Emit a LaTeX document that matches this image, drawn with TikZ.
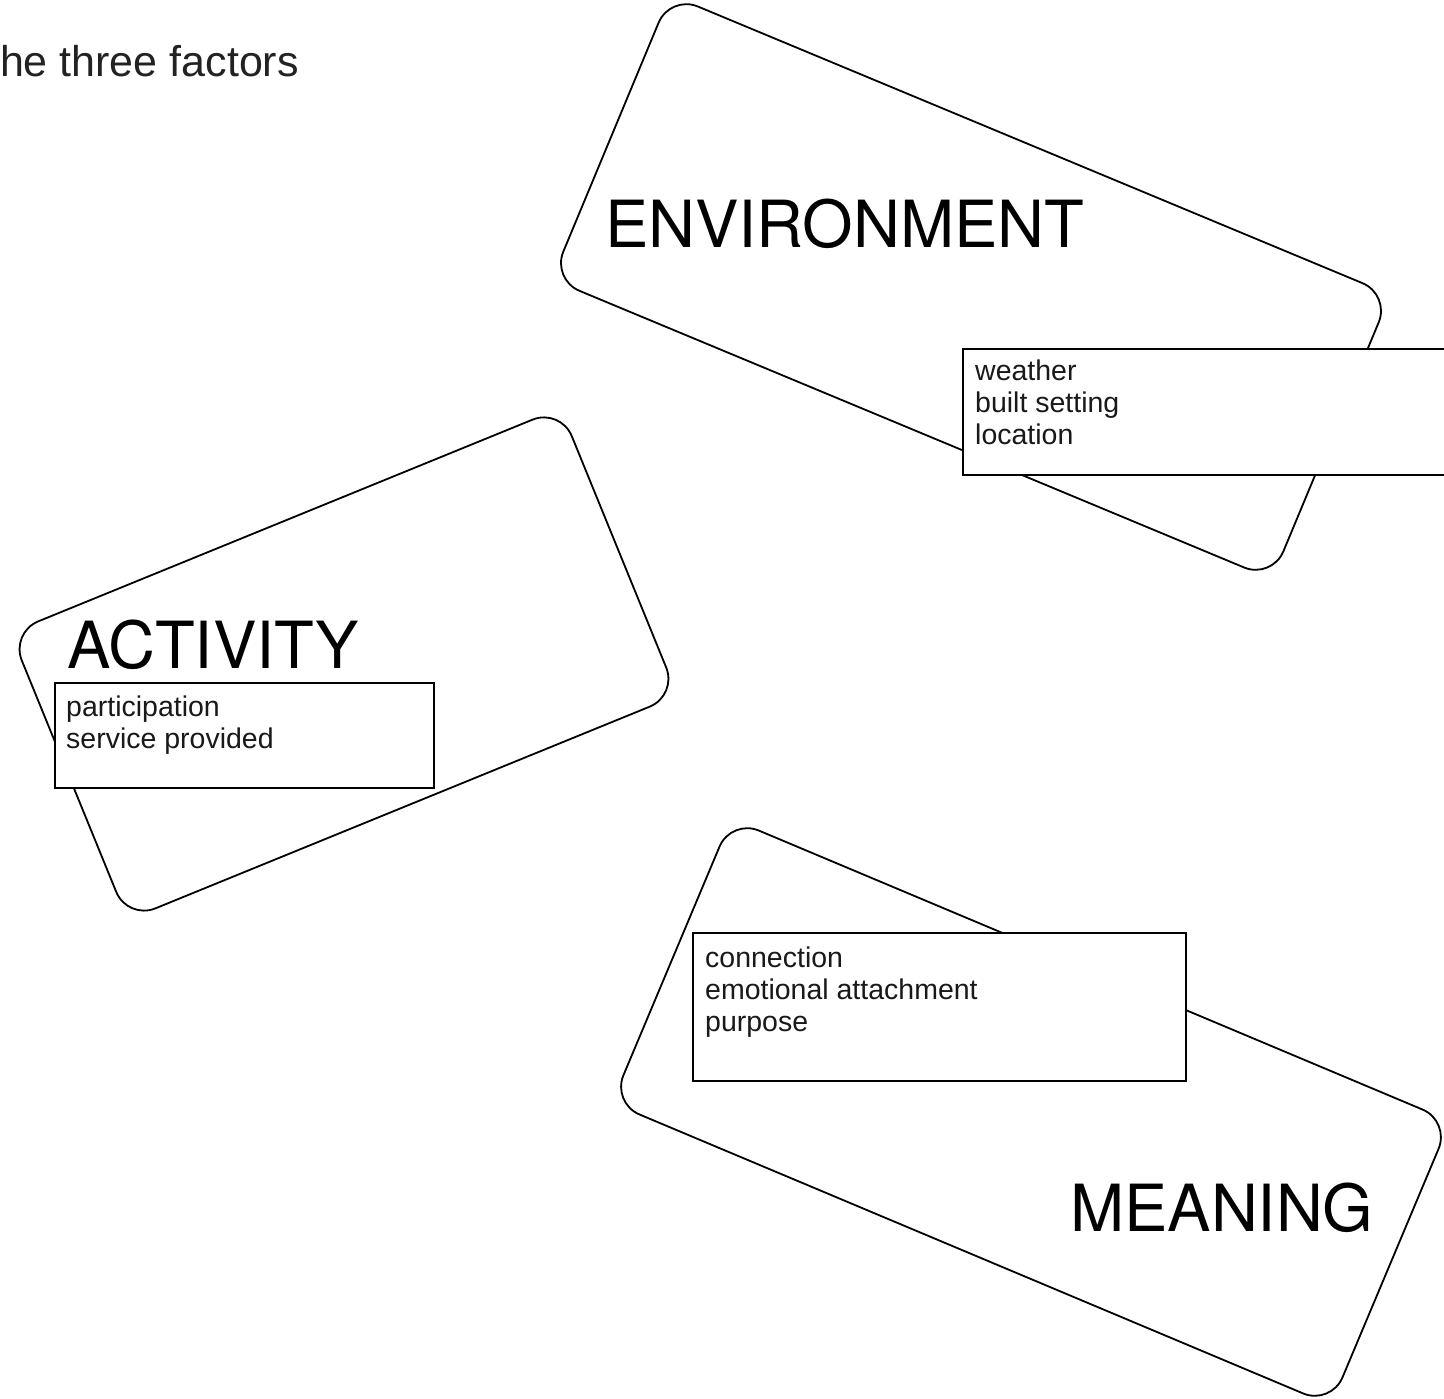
\documentclass[tikz,border=0pt]{standalone}
\usepackage{fontspec}
\setmainfont{Liberation Sans}
\newfontfamily\headfont{TeX Gyre Heros}
\usepackage{xcolor}
\definecolor{inkgray}{HTML}{222222}

\tikzset{
  card/.style={rectangle, draw=black, fill=white, line width=1.8pt, rounded corners=30pt, inner sep=0pt},
  cardtitle/.style={anchor=base west, inner sep=0pt, font=\headfont\fontsize{65}{70}\selectfont},
  tagbox/.style={rectangle, draw=black, fill=white, line width=2pt, anchor=north west, inner sep=0pt},
  tagtext/.style={anchor=base west, inner sep=0pt, align=left, text=black!90, font=\fontsize{28.5}{32}\selectfont}
}

\begin{document}
\begin{tikzpicture}[x=1pt, y=-1pt]
\useasboundingbox (0,0) rectangle (1444,1399);
\clip (0,0) rectangle (1444,1399);

\node[anchor=base east, inner sep=0pt, text=inkgray, font=\fontsize{43}{48}\selectfont] (heading) at (299,77) {The three factors};

% the three tilted cards
\node[card, rotate=-22.6, minimum width=780pt, minimum height=308pt] (envcard) at (971,287) {};
\node[card, rotate=22.2, minimum width=594pt, minimum height=310pt] (actcard) at (344,664) {};
\node[card, rotate=-22.8, minimum width=780pt, minimum height=308pt] (meancard) at (1031,1112) {};

\node[cardtitle] (envtitle) at (605,248) {ENVIRONMENT};
\node[cardtitle] (acttitle) at (67,668) {ACTIVITY};
\node[cardtitle] (meantitle) at (1070,1231) {MEANING};

% factor lists (base anchor sits on the last line)
\node[tagbox, minimum width=520pt, minimum height=126pt] (envtags) at (962,348) {};
\node[tagtext] (envlist) at ([shift={(13pt,-96pt)}]envtags.north west) {weather\\built setting\\location};

\node[tagbox, minimum width=379pt, minimum height=105pt] (acttags) at (54,682) {};
\node[tagtext] (actlist) at ([shift={(12pt,-66pt)}]acttags.north west) {participation\\service provided};

\node[tagbox, minimum width=493pt, minimum height=148pt] (meantags) at (692,932) {};
\node[tagtext] (meanlist) at ([shift={(13pt,-99pt)}]meantags.north west) {connection\\emotional attachment\\purpose};
\end{tikzpicture}
\end{document}
